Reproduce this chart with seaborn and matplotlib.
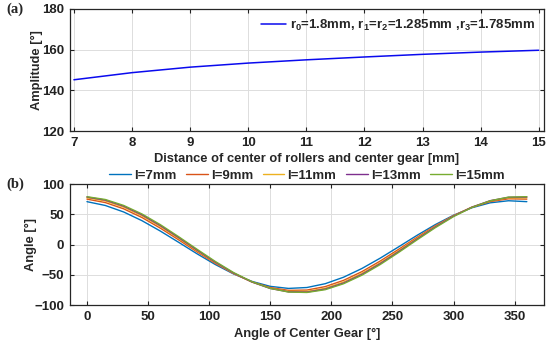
import numpy as np
import pandas as pd
import matplotlib
matplotlib.use('Agg')
import matplotlib.pyplot as plt
import seaborn as sns

# (a) amplitude vs distance of rollers
distance = [7, 8, 9, 10, 11, 12, 13, 14, 15]
amplitude = [145.2, 148.7, 151.4, 153.4, 155.0, 156.4, 157.7, 158.8, 159.7]
amp_label = r'r$_0$=1.8mm, r$_1$=r$_2$=1.285mm ,r$_3$=1.785mm'

# (b) angle vs angle of center gear, for several l
gear_angle = [0, 15, 30, 45, 60, 75, 90, 105, 120, 135, 150, 165, 180,
              195, 210, 225, 240, 255, 270, 285, 300, 315, 330, 345, 360]
angle_l7 = [70.9, 64.6, 53.9, 39.5, 22.4, 3.8, -15.1, -32.9, -48.5, -60.8, -69.0, -72.4, -70.9,
            -64.6, -53.9, -39.5, -22.4, -3.8, 15.1, 32.9, 48.5, 60.8, 69.0, 72.4, 70.9]
angle_l9 = [75.1, 69.4, 59.1, 44.7, 27.2, 7.9, -11.9, -30.9, -47.8, -61.5, -71.0, -75.6, -75.1,
            -69.4, -59.1, -44.7, -27.2, -7.9, 11.9, 30.9, 47.8, 61.5, 71.0, 75.6, 75.1]
angle_l11 = [77.3, 72.1, 61.9, 47.5, 29.9, 10.2, -10.2, -29.9, -47.5, -61.9, -72.1, -77.3, -77.3,
             -72.1, -61.9, -47.5, -29.9, -10.2, 10.2, 29.9, 47.5, 61.9, 72.1, 77.3, 77.3]
angle_l13 = [78.5, 73.5, 63.5, 49.2, 31.5, 11.7, -8.9, -29.0, -47.0, -61.8, -72.5, -78.1, -78.5,
             -73.5, -63.5, -49.2, -31.5, -11.7, 8.9, 29.0, 47.0, 61.8, 72.5, 78.1, 78.5]
angle_l15 = [79.1, 74.5, 64.7, 50.6, 33.0, 13.1, -7.6, -27.8, -46.2, -61.3, -72.3, -78.4, -79.1,
             -74.5, -64.7, -50.6, -33.0, -13.1, 7.6, 27.8, 46.2, 61.3, 72.3, 78.4, 79.1]
l_labels = ['l=7mm', 'l=9mm', 'l=11mm', 'l=13mm', 'l=15mm']
l_colors = ['#0072BD', '#D95319', '#EDB120', '#7E2F8E', '#77AC30']

sns.set_style('ticks')
plt.rcParams['font.family'] = ['Liberation Sans', 'DejaVu Sans']
plt.rcParams['font.weight'] = 'bold'
plt.rcParams['axes.labelweight'] = 'bold'
plt.rcParams['mathtext.default'] = 'regular'
plt.rcParams['xtick.direction'] = 'in'
plt.rcParams['ytick.direction'] = 'in'

fig = plt.figure(figsize=(5.5, 3.44), dpi=100)
ax1 = fig.add_axes([0.127, 0.619, 0.862, 0.355])
ax2 = fig.add_axes([0.127, 0.113, 0.862, 0.352])

# top plot
df_a = pd.DataFrame({'x': distance, 'y': amplitude})
sns.lineplot(data=df_a, x='x', y='y', ax=ax1, color='#0A0AEE', lw=1.1, label=amp_label)
ax1.set_xlim(6.93, 15.09)
ax1.set_ylim(120, 180)
ax1.set_xticks(range(7, 16))
ax1.set_yticks([120, 140, 160, 180])
ax1.set_xlabel('Distance of center of rollers and center gear [mm]', fontsize=9.3, labelpad=3)
ax1.set_ylabel('Amplitude [°]', fontsize=9.3, labelpad=-1)
ax1.legend(loc='upper right', frameon=False, fontsize=9.5, handlelength=1.9,
           handletextpad=0.3, borderaxespad=0.25, bbox_to_anchor=(1.0, 1.0))

# bottom plot
df_b = pd.DataFrame({
    'gear': gear_angle * 5,
    'angle': angle_l7 + angle_l9 + angle_l11 + angle_l13 + angle_l15,
    'l': sum([[lab] * len(gear_angle) for lab in l_labels], []),
})
sns.lineplot(data=df_b, x='gear', y='angle', hue='l', palette=l_colors, ax=ax2, lw=1.0)
ax2.set_xlim(-14, 374)
ax2.set_ylim(-100, 100)
ax2.set_xticks(range(0, 351, 50))
ax2.set_yticks([-100, -50, 0, 50, 100])
ax2.set_xlabel('Angle of Center Gear [°]', fontsize=9.3, labelpad=4)
ax2.set_ylabel('Angle [°]', fontsize=9.3, labelpad=-1.5)
sns.move_legend(ax2, 'lower center', bbox_to_anchor=(0.5, 0.975), ncol=5, frameon=False,
                title=None, fontsize=9.5, handlelength=1.65, handletextpad=0.25,
                columnspacing=0.7, borderaxespad=0)

for ax in (ax1, ax2):
    ax.grid(True, color='#dddddd', lw=0.7)
    ax.tick_params(top=True, right=True, labelsize=9.5, length=3, width=0.8,
                   pad=4, colors='#222222')
    for sp in ax.spines.values():
        sp.set_color('#262626')
        sp.set_linewidth(0.9)
    for t in ax.get_xticklabels() + ax.get_yticklabels():
        t.set_fontweight('bold')

fig.text(0.012, 0.962, '(a)', family='Liberation Serif', fontweight='bold', fontsize=10.5)
fig.text(0.012, 0.455, '(b)', family='Liberation Serif', fontweight='bold', fontsize=10.5)

fig.savefig('out.png', dpi=100)
